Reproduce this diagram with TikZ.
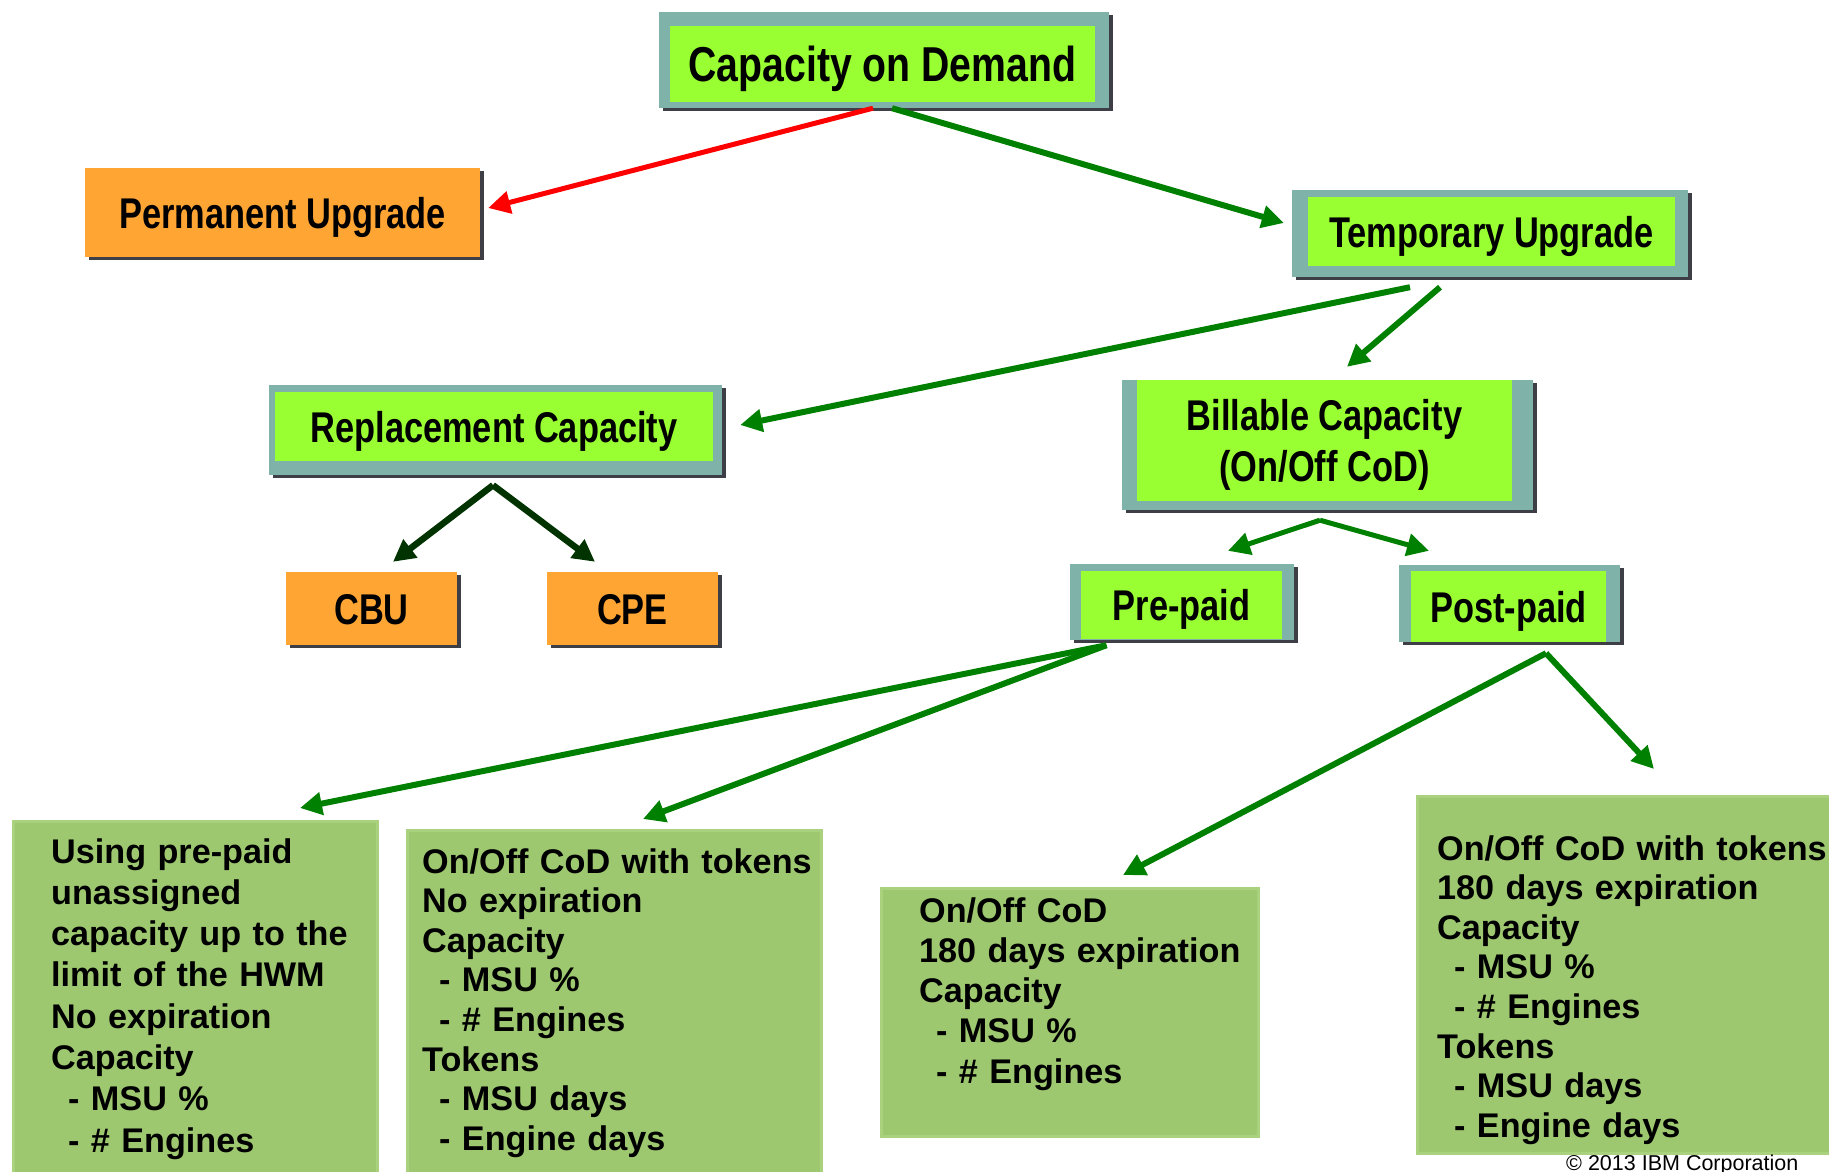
\documentclass[tikz,border=0pt]{standalone}
\usepackage{fontspec}
\setmainfont{Liberation Sans}
\newfontfamily\narrowfont[FakeStretch=0.8]{Liberation Sans}
\usetikzlibrary{arrows.meta,calc}

\definecolor{framecol}{RGB}{127,179,170}
\definecolor{limecol}{RGB}{153,255,51}
\definecolor{orangecol}{RGB}{255,165,51}
\definecolor{notecol}{RGB}{158,200,111}
\definecolor{bevelcol}{RGB}{170,210,126}
\definecolor{shadecol}{RGB}{62,62,70}
\definecolor{arrgreen}{RGB}{0,128,0}
\definecolor{arrdark}{RGB}{0,51,0}
\definecolor{arrred}{RGB}{255,0,0}

\newcommand{\dashline}{\hspace*{17pt}- }

\begin{document}
\begin{tikzpicture}[x=1pt,y=-1pt,
  title/.style={font=\narrowfont\bfseries\fontsize{43}{48}\selectfont, inner sep=0pt, align=center, text height=31pt, text depth=0pt},
  limebox/.style={title, fill=limecol},
  orangebox/.style={title, fill=orangecol},
  notebox/.style={fill=notecol, draw=bevelcol, line width=3pt, anchor=north west, inner sep=0pt},
  notetext/.style={font=\bfseries\fontsize{34.2}{#1}\selectfont, anchor=base west, inner sep=0pt, align=left, text width=420pt},
  conn/.style={line width=6pt, draw=arrgreen, -{Triangle[length=22pt,width=22pt]}},
]
\useasboundingbox (0,0) rectangle (1829,1172);

%Shape: Rectangle (shadows)
\fill[shadecol] (663,15) rectangle (1113,111);
\fill[shadecol] (1296,193) rectangle (1692,280);
\fill[shadecol] (273,388) rectangle (726,478);
\fill[shadecol] (1126,383) rectangle (1537,513);
\fill[shadecol] (1074,567) rectangle (1298,643);
\fill[shadecol] (1403,568) rectangle (1624,645);
\fill[shadecol] (89,171) rectangle (484,260);
\fill[shadecol] (290,575) rectangle (461,648);
\fill[shadecol] (551,575) rectangle (722,648);

%Shape: Rectangle (frames)
\fill[framecol] (659,12) rectangle (1109,108);
\fill[framecol] (1292,190) rectangle (1688,277);
\fill[framecol] (269,385) rectangle (722,475);
\fill[framecol] (1122,380) rectangle (1533,510);
\fill[framecol] (1070,564) rectangle (1294,640);
\fill[framecol] (1399,565) rectangle (1620,642);

% Text Node
\node[limebox, minimum width=425pt, minimum height=76pt, font=\narrowfont\bfseries\fontsize{49}{54}\selectfont, text height=35pt] (cod) at (882.5,64) {Capacity on Demand};
% Text Node
\node[orangebox, minimum width=395pt, minimum height=89pt] (perm) at (282.5,212.5) {Permanent Upgrade};
% Text Node
\node[limebox, minimum width=367pt, minimum height=69pt] (temp) at (1491.5,231.5) {Temporary Upgrade};
% Text Node
\node[limebox, minimum width=438pt, minimum height=69pt] (repl) at (494,426.5) {Replacement Capacity};
% Text Node
\node[limebox, minimum width=375pt, minimum height=121pt, font=\narrowfont\bfseries\fontsize{43}{51}\selectfont, text height=82pt] (bill) at (1324.5,440.5) {Billable Capacity\\(On/Off CoD)};
% Text Node
\node[orangebox, minimum width=171pt, minimum height=73pt] (cbu) at (371.5,608.5) {CBU};
% Text Node
\node[orangebox, minimum width=171pt, minimum height=73pt] (cpe) at (632.5,608.5) {CPE};
% Text Node
\node[limebox, minimum width=201pt, minimum height=68pt] (pre) at (1181.5,605) {Pre-paid};
% Text Node
\node[limebox, minimum width=195pt, minimum height=71pt] (post) at (1508.5,606.5) {Post-paid};

%Shape: Rectangle (notes)
\node[notebox, minimum width=364pt, minimum height=352pt] (box1) at (12,820) {};
\node[notebox, minimum width=414pt, minimum height=343pt] (box2) at (406,829) {};
\node[notebox, minimum width=377pt, minimum height=248pt] (box3) at (880,887) {};
\node[notebox, minimum width=430pt, minimum height=357pt] (box4) at (1416,795) {};

% Text Node
\node[notetext=41.3] (note1) at (51,863) {Using pre-paid\\unassigned\\capacity up to the\\limit of the HWM\\No expiration\\Capacity\\\dashline MSU \%\\\dashline \# Engines};
% Text Node
\node[notetext=39.6] (note2) at (422,873) {On/Off CoD with tokens\\No expiration\\Capacity\\\dashline MSU \%\\\dashline \# Engines\\Tokens\\\dashline MSU days\\\dashline Engine days};
% Text Node
\node[notetext=40.3] (note3) at (919,922) {On/Off CoD\\180 days expiration\\Capacity\\\dashline MSU \%\\\dashline \# Engines};
% Text Node
\node[notetext=39.6] (note4) at (1437,860) {On/Off CoD with tokens\\180 days expiration\\Capacity\\\dashline MSU \%\\\dashline \# Engines\\Tokens\\\dashline MSU days\\\dashline Engine days};
% Text Node
\node[font=\fontsize{21.5}{24}\selectfont, anchor=base west, inner sep=0pt] (copy) at (1566,1170) {\textcopyright{} 2013 IBM Corporation};

%Straight Lines
\draw[conn, draw=arrred, line width=5pt] ($(cod.south)+(-9.5,6)$) -- ($(perm.east)+(8,-4.5)$);
\draw[conn] ($(cod.south)+(9.5,6)$) -- ($(temp.west)+(-24,-8.5)$);
\draw[conn] ($(temp.south)+(-81.5,21)$) -- ($(repl.east)+(27,-1.5)$);
\draw[conn] ($(temp.south)+(-51.5,21)$) -- ($(bill.north)+(22.5,-13)$);
\draw[conn, draw=arrdark, line width=6.5pt] ($(repl.south)+(-1,24)$) -- ($(cbu.north)+(21.5,-10)$);
\draw[conn, draw=arrdark, line width=6.5pt] ($(repl.south)+(-1,24)$) -- ($(cpe.north)+(-37.5,-10)$);
\draw[conn, line width=5pt] ($(bill.south)+(-4.5,19)$) -- ($(pre.north)+(46.5,-20)$);
\draw[conn, line width=5pt] ($(bill.south)+(-4.5,19)$) -- ($(post.north)+(-79.5,-20)$);
\draw[conn] ($(pre.south)+(-75,6)$) -- ($(box1.north west)+(288,-12)$);
\draw[conn] ($(pre.south)+(-75,6)$) -- ($(box2.north west)+(237,-10)$);
\draw[conn] ($(post.south)+(37.5,11)$) -- ($(box3.north west)+(243,-12)$);
\draw[conn] ($(post.south)+(37.5,11)$) -- ($(box4.north west)+(238,-26)$);

\end{tikzpicture}
\end{document}
